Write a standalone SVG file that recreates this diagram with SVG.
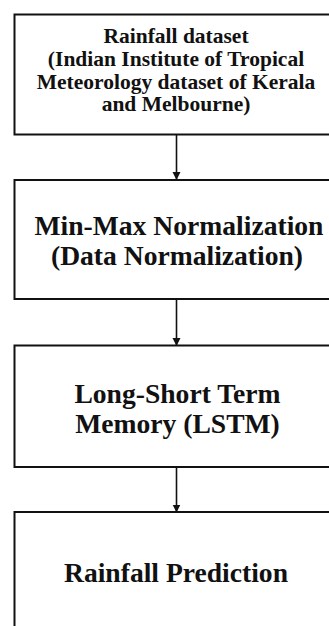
<svg xmlns="http://www.w3.org/2000/svg" width="329" height="626" viewBox="0 0 329 626">
  <style>
    .box { fill: #ffffff; stroke: #111111; stroke-width: 2; }
    .link { stroke: #111111; stroke-width: 1.6; fill: none; }
    .t { font-family: "Liberation Serif", "Times New Roman", serif; font-weight: bold; fill: #111111; text-anchor: middle; }
    .s { font-size: 21.5px; }
    .l { font-size: 27.6px; }
  </style>
  <defs>
    <marker id="arrow" markerWidth="8" markerHeight="10" refX="7" refY="4" orient="auto" markerUnits="userSpaceOnUse" viewBox="0 0 8 8">
      <path d="M0,0 L8,4 L0,8 Z" fill="#111111"/>
    </marker>
  </defs>
  <rect width="329" height="626" fill="#ffffff"/>

  <g id="connectors">
    <line class="link" x1="176.5" y1="134.5" x2="176.5" y2="179" marker-end="url(#arrow)"/>
    <line class="link" x1="176.5" y1="299" x2="176.5" y2="345" marker-end="url(#arrow)"/>
    <line class="link" x1="176.5" y1="467" x2="176.5" y2="511.5" marker-end="url(#arrow)"/>
  </g>

  <g id="dataset">
    <rect class="box" x="14.5" y="14.5" width="325" height="120"/>
    <text class="t s" x="176" y="43">Rainfall dataset</text>
    <text class="t s" x="176" y="66">(Indian Institute of Tropical</text>
    <text class="t s" x="176" y="88.5">Meteorology dataset of Kerala</text>
    <text class="t s" x="176" y="111">and Melbourne)</text>
  </g>

  <g id="normalization">
    <rect class="box" x="14.5" y="180" width="325" height="119"/>
    <text class="t l" x="179" y="235">Min-Max Normalization</text>
    <text class="t l" x="177" y="265">(Data Normalization)</text>
  </g>

  <g id="lstm">
    <rect class="box" x="14.5" y="345.5" width="325" height="121.5"/>
    <text class="t l" x="177.5" y="403">Long-Short Term</text>
    <text class="t l" x="177.5" y="433">Memory (LSTM)</text>
  </g>

  <g id="prediction">
    <rect class="box" x="14.5" y="512" width="325" height="130"/>
    <text class="t l" x="176" y="582">Rainfall Prediction</text>
  </g>
</svg>
